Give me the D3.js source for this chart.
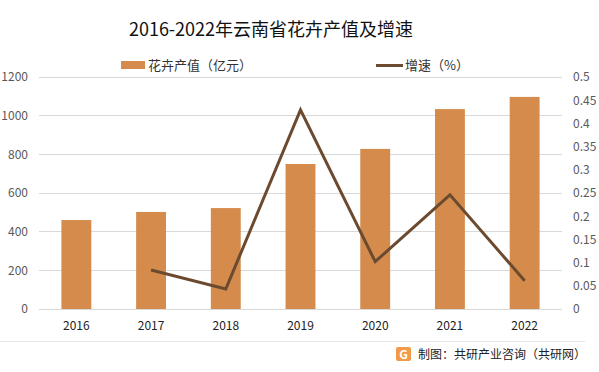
<!DOCTYPE html>
<html><head><meta charset="utf-8">
<script src="https://cdn.jsdelivr.net/npm/d3@7"></script>
<style>body{margin:0;background:#fff}svg{display:block}text{font-family:"Noto Sans CJK SC","Noto Sans",sans-serif}</style>
</head><body><svg id="c" width="599" height="372"></svg>
<script>
const years = ["2016","2017","2018","2019","2020","2021","2022"];
const output = [460, 502, 522, 750, 828, 1034, 1097];
const growth = [null, 0.084, 0.043, 0.429, 0.102, 0.246, 0.061];
const leftTicks = [0,200,400,600,800,1000,1200];
const rightTicks = [0,0.05,0.1,0.15,0.2,0.25,0.3,0.35,0.4,0.45,0.5];

const svg = d3.select("#c");
const L = 39, R = 562, T = 77, B = 309;
const x = d3.scaleBand().domain(years).range([L, R]).paddingInner(0.6).paddingOuter(0.3);
const y = d3.scaleLinear().domain([0,1200]).range([B,T]);
const y2 = d3.scaleLinear().domain([0,0.5]).range([B,T]);

svg.append("text").attr("x",271).attr("y",36).attr("text-anchor","middle")
  .attr("font-size",18).attr("fill","#111").text("2016-2022年云南省花卉产值及增速");

// gridlines
svg.append("g").selectAll("line").data(leftTicks).join("line")
  .attr("x1",L).attr("x2",R).attr("y1",d=>y(d)).attr("y2",d=>y(d))
  .attr("stroke","#d9d9d9").attr("stroke-width",1).attr("shape-rendering","crispEdges");

// left axis
const ga = svg.append("g").attr("transform",`translate(${L},0)`)
  .call(d3.axisLeft(y).tickValues(leftTicks).tickSize(0).tickPadding(11).tickFormat(d3.format("d")));
ga.select(".domain").remove();
ga.selectAll("text").attr("font-size",12).attr("fill","#595959").style("font-family","'Noto Sans CJK SC',sans-serif");

// right axis
const gb = svg.append("g").attr("transform",`translate(${R},0)`)
  .call(d3.axisRight(y2).tickValues(rightTicks).tickSize(0).tickPadding(11).tickFormat(d=>String(+d.toFixed(2))));
gb.select(".domain").remove();
gb.selectAll("text").attr("font-size",12).attr("fill","#595959").style("font-family","'Noto Sans CJK SC',sans-serif");

// bars
svg.append("g").selectAll("rect").data(years).join("rect")
  .attr("x",d=>x(d)).attr("width",x.bandwidth())
  .attr("y",(d,i)=>y(output[i])).attr("height",(d,i)=>B-y(output[i]))
  .attr("fill","#d48b4c");

// x axis
const gx = svg.append("g").attr("transform",`translate(0,${B})`)
  .call(d3.axisBottom(x).tickSize(0).tickPadding(12));
gx.select(".domain").remove();
gx.selectAll("text").attr("font-size",12).attr("fill","#222").style("font-family","'Noto Sans CJK SC',sans-serif");

// line
const line = d3.line().defined(d=>d[1]!=null)
  .x(d=>x(d[0])+x.bandwidth()/2).y(d=>y2(d[1]));
svg.append("path").datum(years.map((d,i)=>[d,growth[i]]))
  .attr("d",line).attr("fill","none").attr("stroke","#6b4a30").attr("stroke-width",3).attr("stroke-linejoin","miter");

// legend
svg.append("rect").attr("x",121).attr("y",61).attr("width",24).attr("height",8).attr("fill","#d48b4c");
svg.append("text").attr("x",148).attr("y",70).attr("font-size",13).attr("fill","#333").text("花卉产值（亿元）");
svg.append("line").attr("x1",376).attr("x2",403).attr("y1",65.5).attr("y2",65.5).attr("stroke","#6b4a30").attr("stroke-width",3);
svg.append("text").attr("x",405).attr("y",70).attr("font-size",13).attr("fill","#333").text("增速（%）");

// footer
svg.append("line").attr("x1",0).attr("x2",585).attr("y1",341.5).attr("y2",341.5).attr("stroke","#e6e6e6");
const lg = svg.append("g").attr("transform","translate(396,347)");
lg.append("rect").attr("width",15).attr("height",14).attr("rx",2).attr("fill","#f29a4a");
lg.append("text").attr("x",7.5).attr("y",11.5).attr("text-anchor","middle").attr("font-size",12).attr("font-weight","bold").attr("fill","#fff").text("G");
svg.append("text").attr("x",418).attr("y",359).attr("font-size",12).attr("fill","#222").text("制图：共研产业咨询（共研网）");
</script></body></html>
